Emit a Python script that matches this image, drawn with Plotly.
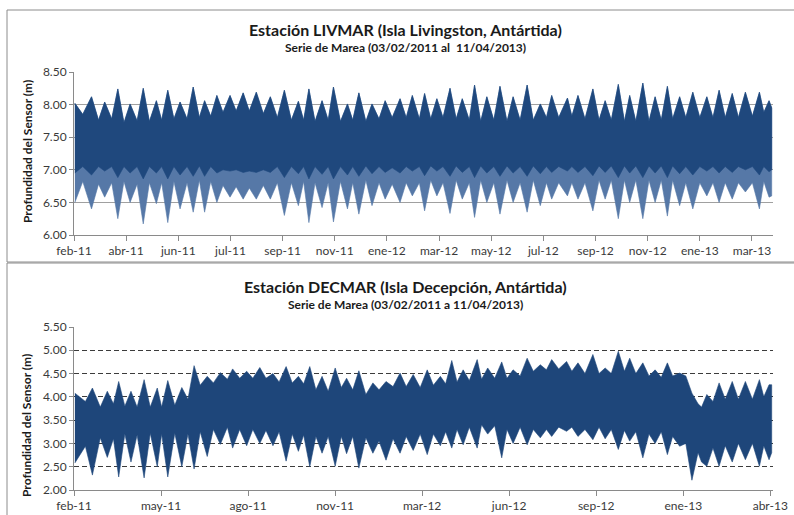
import pandas as pd
import plotly.graph_objects as go

START = pd.Timestamp("2011-02-03")

# LIVMAR tide record: envelope of the series (day offset from start, max / min depth in m)
liv_day = [1, 10, 20, 28, 35, 43, 50, 57, 64, 72,
           79, 86, 94, 100, 107, 114, 121, 129, 136, 143,
           149, 156, 163, 170, 178, 185, 193, 200, 208, 216,
           224, 232, 240, 248, 256, 262, 268, 275, 283, 290,
           296, 304, 312, 318, 325, 333, 340, 348, 355, 363,
           372, 379, 386, 394, 400, 407, 414, 421, 429, 436,
           443, 451, 457, 464, 471, 479, 486, 494, 501, 509,
           517, 524, 532, 539, 545, 553, 563, 568, 575, 583,
           592, 599, 606, 613, 621, 628, 634, 641, 649, 656,
           663, 670, 677, 683, 691, 698, 706, 714, 722, 729,
           736, 743, 751, 758, 766, 774, 782, 787, 793, 796]
liv_hi = [8.02, 7.85, 8.12, 7.76, 8.04, 7.78, 8.24, 7.72, 8.01, 7.75,
          8.25, 7.74, 8.06, 7.76, 8.22, 7.78, 8.04, 7.78, 8.27, 7.80,
          8.06, 7.82, 8.14, 7.88, 8.14, 7.90, 8.18, 7.90, 8.19, 7.86,
          8.12, 7.80, 8.22, 7.76, 8.05, 7.76, 8.24, 7.74, 8.06, 7.76,
          8.27, 7.74, 8.01, 7.76, 8.18, 7.74, 8.01, 7.78, 8.06, 7.80,
          8.09, 7.80, 8.14, 7.78, 8.17, 7.78, 8.09, 7.80, 8.25, 7.78,
          8.09, 7.76, 8.30, 7.74, 8.12, 7.76, 8.28, 7.74, 8.12, 7.76,
          8.30, 7.76, 8.01, 7.80, 8.14, 7.80, 8.10, 7.82, 8.14, 7.78,
          8.24, 7.76, 8.06, 7.76, 8.31, 7.74, 8.14, 7.74, 8.33, 7.74,
          8.12, 7.76, 8.28, 7.78, 8.12, 7.80, 8.19, 7.80, 8.12, 7.80,
          8.22, 7.80, 8.17, 7.80, 8.19, 7.82, 8.19, 7.88, 8.06, 7.95]
liv_lo = [6.50, 6.82, 6.40, 6.78, 6.58, 6.80, 6.25, 6.82, 6.50, 6.78,
          6.17, 6.80, 6.48, 6.80, 6.19, 6.82, 6.40, 6.80, 6.35, 6.84,
          6.35, 6.82, 6.50, 6.76, 6.58, 6.74, 6.55, 6.72, 6.55, 6.76,
          6.55, 6.80, 6.30, 6.80, 6.45, 6.82, 6.19, 6.80, 6.42, 6.80,
          6.20, 6.82, 6.40, 6.80, 6.32, 6.84, 6.45, 6.80, 6.55, 6.78,
          6.50, 6.80, 6.60, 6.80, 6.37, 6.84, 6.60, 6.80, 6.33, 6.84,
          6.55, 6.80, 6.27, 6.84, 6.50, 6.80, 6.32, 6.84, 6.50, 6.80,
          6.35, 6.84, 6.45, 6.80, 6.55, 6.80, 6.60, 6.80, 6.55, 6.80,
          6.37, 6.84, 6.55, 6.84, 6.25, 6.84, 6.50, 6.84, 6.25, 6.84,
          6.50, 6.84, 6.29, 6.84, 6.45, 6.80, 6.40, 6.80, 6.60, 6.80,
          6.50, 6.80, 6.55, 6.80, 6.66, 6.80, 6.40, 6.82, 6.58, 6.60]
# lower edge of the dense (dark) part of the LIVMAR trace, same days as liv_day
liv_core_lo = [6.95, 7.05, 6.92, 7.05, 6.98, 7.05, 6.88, 7.05, 6.95, 7.05,
               6.86, 7.05, 6.95, 7.05, 6.86, 7.05, 6.92, 7.05, 6.90, 7.06,
               6.90, 7.05, 6.95, 7.00, 6.98, 7.00, 6.96, 6.98, 6.96, 7.00,
               6.96, 7.05, 6.88, 7.05, 6.94, 7.05, 6.86, 7.05, 6.93, 7.05,
               6.86, 7.05, 6.92, 7.05, 6.90, 7.06, 6.94, 7.05, 6.96, 7.03,
               6.95, 7.05, 6.98, 7.05, 6.91, 7.06, 6.98, 7.05, 6.90, 7.06,
               6.96, 7.05, 6.88, 7.06, 6.95, 7.05, 6.90, 7.06, 6.95, 7.05,
               6.90, 7.06, 6.94, 7.05, 6.96, 7.05, 6.98, 7.05, 6.96, 7.05,
               6.91, 7.06, 6.96, 7.06, 6.88, 7.06, 6.95, 7.06, 6.88, 7.06,
               6.95, 7.06, 6.88, 7.06, 6.94, 7.05, 6.92, 7.05, 6.98, 7.05,
               6.95, 7.05, 6.96, 7.05, 7.00, 7.05, 6.92, 7.05, 6.97, 7.00]

# DECMAR tide record: envelope of the series (day offset from start, max / min depth in m)
dec_day = [1, 13, 21, 30, 38, 45, 51, 58, 65, 72,
           80, 87, 95, 100, 107, 115, 123, 130, 137, 144,
           152, 159, 167, 175, 181, 189, 197, 204, 212, 219,
           227, 234, 242, 249, 256, 262, 269, 276, 283, 290,
           298, 305, 311, 318, 325, 333, 341, 348, 356, 364,
           372, 379, 387, 395, 403, 410, 418, 424, 431, 437,
           444, 451, 460, 465, 472, 480, 488, 494, 501, 509,
           517, 524, 532, 539, 545, 553, 562, 568, 575, 583,
           592, 599, 606, 613, 621, 628, 634, 641, 649, 656,
           663, 670, 677, 683, 691, 698, 705, 712, 716, 722,
           729, 736, 743, 751, 758, 766, 774, 782, 787, 793, 796]
dec_hi = [4.08, 3.90, 4.19, 3.78, 4.12, 3.85, 4.33, 3.80, 4.12, 3.78,
          4.37, 3.78, 4.19, 3.78, 4.35, 3.82, 4.20, 3.95, 4.67, 4.25,
          4.44, 4.30, 4.52, 4.38, 4.60, 4.40, 4.55, 4.40, 4.63, 4.40,
          4.50, 4.32, 4.65, 4.30, 4.44, 4.28, 4.65, 4.15, 4.44, 4.12,
          4.62, 4.20, 4.40, 4.15, 4.56, 4.05, 4.30, 4.15, 4.33, 4.22,
          4.51, 4.22, 4.48, 4.20, 4.58, 4.25, 4.44, 4.28, 4.78, 4.32,
          4.58, 4.35, 4.80, 4.38, 4.62, 4.40, 4.75, 4.40, 4.58, 4.45,
          4.83, 4.55, 4.69, 4.58, 4.80, 4.60, 4.76, 4.55, 4.73, 4.50,
          4.91, 4.50, 4.62, 4.50, 4.98, 4.55, 4.83, 4.50, 4.73, 4.45,
          4.58, 4.42, 4.73, 4.45, 4.51, 4.45, 4.08, 3.85, 3.78, 4.05,
          3.90, 4.30, 3.95, 4.33, 3.95, 4.33, 3.95, 4.37, 4.00, 4.26, 4.26]
dec_lo = [2.58, 2.94, 2.32, 3.12, 2.70, 3.10, 2.28, 3.20, 2.60, 3.18,
          2.26, 3.22, 2.50, 3.20, 2.28, 3.22, 2.50, 3.20, 2.45, 3.25,
          2.72, 3.30, 2.98, 3.35, 2.90, 3.30, 2.95, 3.30, 3.00, 3.28,
          2.95, 3.25, 2.62, 3.20, 2.83, 3.18, 2.50, 3.15, 2.79, 3.15,
          2.51, 3.15, 2.78, 3.15, 2.47, 3.12, 2.79, 3.05, 2.64, 3.10,
          2.79, 3.15, 2.85, 3.20, 2.76, 3.20, 2.95, 3.25, 2.90, 3.30,
          2.97, 3.35, 2.90, 3.40, 3.20, 3.38, 2.69, 3.30, 3.00, 3.35,
          2.97, 3.30, 3.12, 3.30, 3.15, 3.35, 3.26, 3.35, 3.15, 3.30,
          3.08, 3.35, 3.10, 3.30, 2.87, 3.28, 3.05, 3.25, 2.69, 3.20,
          3.00, 3.25, 2.76, 3.15, 2.94, 3.00, 2.21, 2.80, 2.60, 2.51,
          2.90, 2.51, 2.95, 2.60, 3.00, 2.65, 3.00, 2.51, 2.95, 2.65, 2.80]

# axis labels
liv_ticks = ["feb-11", "abr-11", "jun-11", "jul-11", "sep-11", "nov-11", "ene-12",
             "mar-12", "may-12", "jul-12", "sep-12", "nov-12", "ene-13", "mar-13"]
dec_ticks = ["feb-11", "may-11", "ago-11", "nov-11", "mar-12", "jun-12",
             "sep-12", "ene-13", "abr-13"]
liv_yticks = [6.0, 6.5, 7.0, 7.5, 8.0, 8.5]
dec_yticks = [2.0, 2.5, 3.0, 3.5, 4.0, 4.5, 5.0, 5.5]

W, H = 794, 515
FONT = "Lato, 'Open Sans', sans-serif"
TXT = "#3a3a3a"


def dates(days):
    return [START + pd.Timedelta(days=d) for d in days]


def band(days, hi, lo, color, xa, ya):
    x = dates(days) + dates(days)[::-1]
    y = list(hi) + list(lo)[::-1]
    return go.Scatter(x=x, y=y, mode="lines", fill="toself", fillcolor=color,
                      line=dict(width=0.6, color=color), hoverinfo="skip",
                      showlegend=False, xaxis=xa, yaxis=ya)


fig = go.Figure()
fig.add_trace(band(liv_day, liv_hi, liv_lo, "rgb(86,120,167)", "x", "y"))
fig.add_trace(band(liv_day, liv_hi, liv_core_lo, "rgb(31,72,125)", "x", "y"))
fig.add_trace(band(dec_day, dec_hi, dec_lo, "rgb(30,70,122)", "x2", "y2"))


def px_x(p):
    return p / W


def px_y(p):
    return (H - p) / H


end_day = 797.5
liv_step, dec_step = 59.5, 99.3
tickfont = dict(family=FONT, size=12, color=TXT)
xcommon = dict(type="date", showline=True, linecolor="#8a8a8a", linewidth=1,
               ticks="outside", ticklen=5, tickcolor="#8a8a8a",
               showgrid=False, zeroline=False, automargin=False, tickfont=tickfont,
               range=[START, START + pd.Timedelta(days=end_day)])
ycommon = dict(showgrid=True, gridwidth=1, showline=True, linecolor="#8a8a8a",
               ticks="outside", ticklen=4, tickcolor="#8a8a8a", zeroline=False,
               automargin=False, tickfont=tickfont)

fig.update_layout(
    width=W, height=H,
    margin=dict(l=0, r=0, t=0, b=0, pad=0, autoexpand=False),
    paper_bgcolor="white", plot_bgcolor="white",
    xaxis=dict(xcommon, domain=[px_x(74), px_x(773)], anchor="y",
               tickvals=dates([i * liv_step for i in range(len(liv_ticks))]),
               ticktext=liv_ticks),
    yaxis=dict(ycommon, domain=[px_y(235), px_y(72)], anchor="x", range=[6.0, 8.5],
               tickvals=liv_yticks, ticktext=[f"{v:.2f}" for v in liv_yticks],
               gridcolor="#a0a0a0"),
    xaxis2=dict(xcommon, domain=[px_x(74), px_x(773)], anchor="y2",
                tickvals=dates([i * dec_step for i in range(len(dec_ticks))]),
                ticktext=dec_ticks),
    yaxis2=dict(ycommon, domain=[px_y(490), px_y(327)], anchor="x2", range=[2.0, 5.5],
                tickvals=dec_yticks, ticktext=[f"{v:.2f}" for v in dec_yticks],
                gridcolor="#3c3c3c", griddash="5px,3px"),
)

# chart-area frames
fig.add_shape(type="rect", xref="paper", yref="paper",
              x0=px_x(7), x1=1.2, y0=px_y(262), y1=px_y(10),
              line=dict(color="#8c8c8c", width=1))
fig.add_shape(type="rect", xref="paper", yref="paper",
              x0=px_x(7), x1=1.2, y0=-0.2, y1=px_y(263),
              line=dict(color="#8c8c8c", width=1))

texts = [
    ("Estación LIVMAR (Isla Livingston, Antártida)", 405, 30, 16),
    ("Serie de Marea (03/02/2011 al  11/04/2013)", 405, 47, 12),
    ("Estación DECMAR (Isla Decepción, Antártida)", 405, 287, 16),
    ("Serie de Marea (03/02/2011 a 11/04/2013)", 405, 304, 12),
]
for t, x, y, s in texts:
    fig.add_annotation(text=f"<b>{t}</b>", x=px_x(x), y=px_y(y), xref="paper",
                       yref="paper", showarrow=False, xanchor="center", yanchor="middle",
                       font=dict(family=FONT, size=s, color="#1a1a1a"))

for yc in (152, 426):
    fig.add_annotation(text="<b>Profundidad del Sensor (m)</b>", x=px_x(27), y=px_y(yc),
                       xref="paper", yref="paper", showarrow=False, textangle=-90,
                       xanchor="center", yanchor="middle",
                       font=dict(family=FONT, size=12, color="#1a1a1a"))

fig.write_html("out.html")
